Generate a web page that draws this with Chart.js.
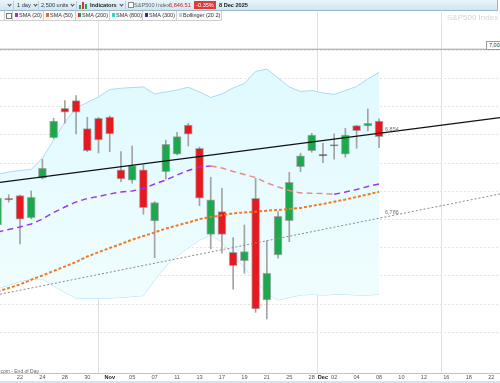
<!DOCTYPE html>
<html>
<head>
<meta charset="utf-8">
<script src="https://cdn.jsdelivr.net/npm/chart.js@4.4.1/dist/chart.umd.min.js"></script>
<style>
body{margin:0;width:500px;height:383px;overflow:hidden;background:#fff;position:relative;font-family:Arial,"Liberation Sans",sans-serif}
#bar{position:absolute;left:0;top:0;width:497px;height:10px;background:linear-gradient(#eaf5fb,#cfe6f2);border-bottom:1px solid #9cb8c8;border-right:1px solid #9cb8c8;z-index:3}
.t{position:absolute;top:2px;font-size:5.6px;line-height:7px;color:#333;white-space:nowrap}
.b{font-weight:bold;color:#222}
.chev{position:absolute;top:3px;width:2px;height:2px;border-right:1px solid #444;border-bottom:1px solid #444;transform:rotate(45deg)}
.sep{position:absolute;top:1px;width:1px;height:8px;background:#b5cdd9}
#legend{position:absolute;left:0;top:11px;height:10px;width:222px;z-index:3}
.li{position:absolute;top:0;height:9px;border-right:1px solid #cfcfcf;border-bottom:1px solid #cfcfcf;background:#fafafa}
.sq{position:absolute;top:2px;left:2px;width:3px;height:4px}
.lt{position:absolute;top:1px;left:6px;font-size:5.5px;line-height:7px;color:#333;white-space:nowrap}
.lab{position:absolute;font-size:5.5px;line-height:6px;color:#777;white-space:nowrap;z-index:2}
#c{position:absolute;left:0;top:12px}
</style>
</head>
<body>
<div id="bar">
  <span class="chev" style="left:8px"></span>
  <span class="sep" style="left:13px"></span>
  <span class="t" style="left:17px">1 day</span>
  <span class="chev" style="left:34px"></span>
  <span class="sep" style="left:38px"></span>
  <span class="t" style="left:41px">2,500 units</span>
  <span class="chev" style="left:71px"></span>
  <span class="sep" style="left:76px"></span>
  <span style="position:absolute;left:79px;top:5px;width:2px;height:4px;background:#2fa04a"></span>
  <span style="position:absolute;left:82px;top:2px;width:2px;height:7px;background:#d43030"></span>
  <span style="position:absolute;left:85px;top:4px;width:2px;height:5px;background:#2fa04a"></span>
  <span class="t b" style="left:90px">Indicators</span>
  <span class="chev" style="left:120px"></span>
  <span class="sep" style="left:125px"></span>
  <span style="position:absolute;left:128px;top:2px;width:4px;height:4px;border:1px solid #8a8a8a;background:#fff"></span>
  <span class="t" style="left:134px;color:#666">S&amp;P500 Index</span>
  <span class="t" style="left:169px;color:#d42020">6,846.51</span>
  <span style="position:absolute;left:194px;top:1px;width:22px;height:8px;background:#e23a3a;color:#fff;font-size:5.5px;line-height:8px;text-align:center">-0.35%</span>
  <span class="t b" style="left:219px">8 Dec 2025</span>
</div>
<div id="legend">
  <div class="li" style="left:0;width:4px"></div>
  <div class="li" style="left:5px;width:7px"><span style="position:absolute;left:1px;top:2px;width:4px;height:4px;border:1px solid #777"></span></div>
  <div class="li" style="left:13px;width:30px"><span class="sq" style="background:#9b30e8"></span><span class="lt">SMA (20)</span></div>
  <div class="li" style="left:44px;width:31px"><span class="sq" style="background:#e8701a"></span><span class="lt">SMA (50)</span></div>
  <div class="li" style="left:76px;width:33px"><span class="sq" style="background:linear-gradient(90deg,#d82a2a 50%,#22a04a 50%)"></span><span class="lt">SMA (200)</span></div>
  <div class="li" style="left:110px;width:32px"><span class="sq" style="background:#2ad8c8"></span><span class="lt">SMA (800)</span></div>
  <div class="li" style="left:143px;width:33px"><span class="sq" style="background:#2030c0"></span><span class="lt">SMA (300)</span></div>
  <div class="li" style="left:177px;width:44px"><span class="sq" style="background:#a8d4f4"></span><span class="lt">Bollinger (20 2)</span></div>
</div>
<span style="position:absolute;left:447px;top:13px;font-size:8px;color:#d6d6d6;white-space:nowrap;z-index:1">S&amp;P500 Index</span>
<span class="lab" style="left:385px;top:126px">6,854</span>
<span class="lab" style="left:385px;top:209px">6,786</span>
<span style="position:absolute;left:486px;top:41px;width:20px;height:7px;border:1px solid #9a9a9a;background:#fff;font-size:5.5px;line-height:7px;color:#333;padding-left:2px;z-index:2">7,002</span>
<span style="position:absolute;left:-1px;top:368px;font-size:5px;color:#666;white-space:nowrap;z-index:2">.com - End of Day</span>
<div style="position:absolute;left:0;top:381px;width:500px;height:2px;background:#d6e4ec"></div>
<canvas id="c" width="500" height="370"></canvas>
<script>
// trading days on the axis, 20 Oct .. 23 Dec
const days = ['20','21','22','23','24','27','28','29','30','31','Nov','04','05','06','07','10','11','12','13','14','17','18','19','20','21','24','25','26','28','Dec','02','03','04','05','08','09','10','11','12','15','16','17','18','19','22','23'];
const tickDays = [2,4,6,8,10,12,14,16,18,20,22,24,26,28,29,30,32,34,36,38,40,42,44];
const monthTicks = [10, 29];
const todayMark = 35.12;
const xRange = [0.22, 44.78];
const yRange = [6428, 7068];

// daily OHLC, 20 Oct .. 8 Dec
const open  = [6690.4,6737.0,6742.4,6703.4,6773.2,6845.2,6897.3,6910.8,6861.2,6879.6,6881.9,6788.0,6769.7,6788.0,6697.5,6784.9,6815.8,6867.7,6826.4,6673.9,6714.0,6642.0,6627.1,6737.8,6557.5,6637.2,6698.1,6793.8,6822.2,6812.8,6831.7,6815.8,6866.5,6866.0,6874.8];
const high  = [6741.8,6744.0,6743.6,6750.7,6806.9,6879.6,6910.8,6919.7,6881.4,6881.0,6883.7,6820.4,6830.5,6796.8,6731.7,6841.1,6854.8,6870.7,6828.7,6775.0,6755.5,6667.9,6690.4,6773.2,6662.1,6714.0,6783.9,6817.6,6853.0,6835.3,6851.8,6861.9,6866.5,6896.1,6878.4];
const low   = [6685.1,6731.0,6656.7,6701.1,6772.0,6843.8,6870.7,6851.8,6820.4,6818.1,6820.4,6767.2,6764.4,6709.4,6632.5,6771.5,6814.5,6830.5,6724.6,6647.9,6640.3,6576.4,6604.8,6535.6,6523.8,6631.4,6660.8,6784.9,6819.3,6800.9,6806.9,6810.5,6826.4,6857.1,6827.5];
const close = [6738.3,6735.0,6700.5,6739.5,6791.0,6874.8,6890.2,6890.2,6822.2,6841.1,6851.8,6772.0,6795.6,6721.1,6730.0,6833.5,6847.0,6851.2,6737.8,6734.8,6673.9,6618.3,6643.1,6541.5,6604.8,6705.9,6766.1,6812.8,6850.0,6814.0,6830.5,6850.0,6857.6,6870.7,6847.0];

const sma20 = [6678.0,6682.5,6686.9,6692.2,6701.0,6712.6,6722.3,6731.2,6737.4,6741.0,6745.4,6748.9,6750.7,6755.1,6763.1,6770.2,6779.0,6787.0,6793.3,6795.0,6791.5,6785.3,6780.0,6774.6,6765.1,6757.9,6751.6,6747.2,6746.6,6746.3,6744.9,6748.9,6753.4,6758.7,6763.1];
const sma50 = [6572.5,6578.7,6584.9,6593.3,6600.9,6608.9,6616.8,6624.8,6634.6,6642.2,6649.7,6656.7,6664.4,6670.9,6677.1,6684.2,6689.5,6694.9,6700.7,6704.6,6707.6,6711.2,6712.6,6714.0,6715.8,6717.0,6718.8,6720.6,6724.1,6727.6,6731.7,6735.6,6740.1,6744.6,6749.3];
const bbUpper = [6780.0,6784.4,6787.1,6788.8,6809.2,6841.1,6873.0,6897.9,6907.6,6917.4,6930.7,6932.8,6934.2,6935.1,6922.7,6926.2,6929.8,6934.6,6926.2,6916.5,6922.7,6933.3,6941.3,6962.6,6967.0,6951.1,6935.1,6927.1,6928.9,6924.5,6921.8,6928.9,6936.0,6949.3,6960.8];
const bbLower = [6577.8,6584.1,6590.3,6594.7,6594.7,6582.3,6570.8,6561.0,6560.1,6560.5,6561.0,6561.9,6563.7,6565.1,6592.9,6617.7,6635.5,6649.6,6663.8,6672.7,6660.3,6637.2,6614.2,6592.0,6569.0,6557.5,6561.9,6566.3,6567.2,6566.3,6567.2,6567.2,6566.3,6566.3,6567.2];

// drawn lines: values at the left and right edge of the view
const trendUpper = [6766.1, 6880.7];
const trendLower = [6567.6, 6745.4];
const level = 7002;

const pts = arr => arr.map((v, i) => ({x: i, y: v}));
const edge = arr => arr.map((v, i) => ({x: xRange[i], y: v}));
const isMonth = c => !!(c && c.tick && monthTicks.includes(c.tick.value));

function bodyColor(o, c) {
  if (Math.abs(c - o) < 2) return c >= o ? '#333333' : '#8b1e1e';
  return c > o ? '#1ca84c' : '#e5191f';
}

const canvas = document.getElementById('c');

new Chart(canvas, {
  type: 'bar',
  data: {
    datasets: [
      {
        type: 'line', data: edge(trendUpper), borderColor: '#111', borderWidth: 1.3,
        pointRadius: 0, order: 1
      },
      {
        type: 'line', data: edge(trendLower), borderColor: '#8a8a8a', borderWidth: 1,
        borderDash: [2, 2], pointRadius: 0, order: 2
      },
      {
        type: 'line', data: edge([level, level]), borderColor: '#9a9a9a', borderWidth: 1,
        pointRadius: 0, order: 2
      },
      {
        type: 'line', data: pts(sma20), borderWidth: 1.4, borderDash: [6, 4], pointRadius: 0,
        borderColor: '#a030f0',
        segment: {borderColor: c => c.p1.parsed.y >= c.p0.parsed.y ? '#a030f0' : '#e8868a'},
        order: 3
      },
      {
        type: 'line', data: pts(sma50), borderColor: '#f07a20', borderWidth: 2,
        borderDash: [3, 2], pointRadius: 0, order: 4
      },
      {
        data: open.map((o, i) => ({x: i, y: [o, close[i]]})),
        backgroundColor: open.map((o, i) => bodyColor(o, close[i])),
        borderColor: 'rgba(110,110,110,0.55)', borderWidth: 1, borderSkipped: false,
        barThickness: 8, minBarLength: 1.5, grouped: false, order: 5
      },
      {
        data: low.map((l, i) => ({x: i, y: [l, high[i]]})),
        backgroundColor: '#a3a3a3', barThickness: 1, grouped: false, order: 6
      },
      {
        type: 'line', data: pts(bbUpper), borderColor: '#aad9f2', borderWidth: 1,
        pointRadius: 0, fill: '+1', order: 7,
        backgroundColor: c => {
          const ca = c.chart.chartArea;
          if (!ca) return 'rgba(220,250,255,0.7)';
          const g = c.chart.ctx.createLinearGradient(0, ca.top, 0, ca.bottom);
          g.addColorStop(0, '#dbf9fe');
          g.addColorStop(1, '#f6feff');
          return g;
        }
      },
      {
        type: 'line', data: pts(bbLower), borderColor: '#aad9f2', borderWidth: 1,
        pointRadius: 0, fill: false, order: 8
      }
    ]
  },
  options: {
    responsive: false,
    animation: false,
    events: [],
    layout: {padding: 0},
    plugins: {legend: {display: false}, tooltip: {enabled: false}},
    scales: {
      x: {
        type: 'linear', min: xRange[0], max: xRange[1], offset: false,
        grid: {
          drawTicks: false,
          color: c => (c && c.tick && (monthTicks.includes(c.tick.value) || c.tick.value === todayMark)) ? '#e0e0e0' : 'rgba(0,0,0,0)'
        },
        border: {color: '#c4c4c4'},
        ticks: {
          autoSkip: false, maxRotation: 0, padding: 1,
          font: c => ({size: 5.6, family: 'Arial', weight: isMonth(c) ? 'bold' : 'normal'}),
          color: c => isMonth(c) ? '#222' : '#555',
          callback: v => days[v] !== undefined ? days[v] : ''
        },
        afterBuildTicks: s => { s.ticks = tickDays.concat([todayMark]).map(v => ({value: v})); },
        afterFit: s => { s.height = 9; }
      },
      y: {
        position: 'right', min: yRange[0], max: yRange[1],
        ticks: {display: false, stepSize: 50},
        grid: {color: '#e3e3e3', drawTicks: false},
        border: {display: false, dash: [2, 2]},
        afterBuildTicks: s => { s.ticks = s.ticks.filter(t => t.value % 50 === 0); },
        afterFit: s => { s.width = 0; }
      }
    }
  }
});
</script>
</body>
</html>
